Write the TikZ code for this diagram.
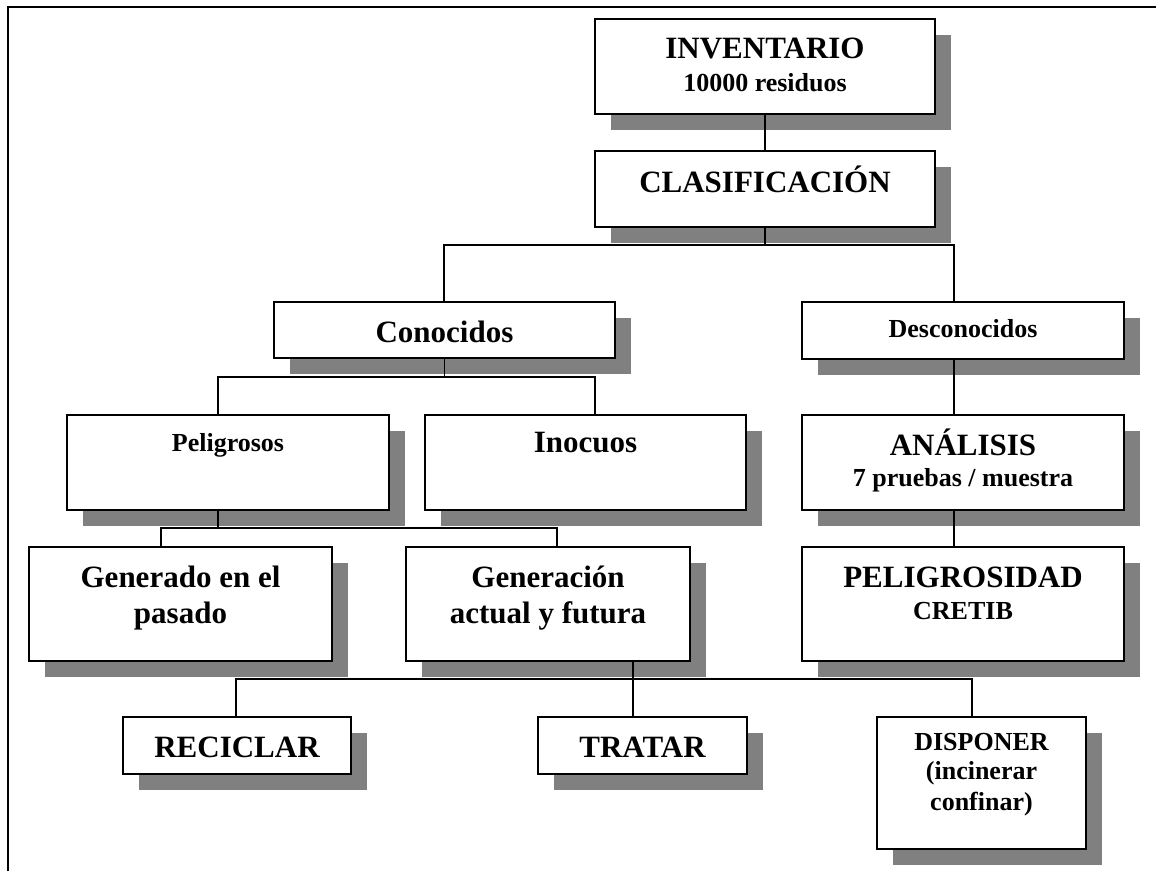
\documentclass[tikz,border=0pt]{standalone}
\usepackage{fontspec}
\setmainfont{Liberation Serif}
\usetikzlibrary{shadows}
\definecolor{shadowgray}{HTML}{808080}
\newcommand{\LFont}{\fontsize{23.25pt}{27pt}\selectfont\bfseries}
\newcommand{\SFont}{\fontsize{19.5pt}{23pt}\selectfont\bfseries}
\begin{document}
\begin{tikzpicture}[x=0.75pt,y=-0.75pt,
  box/.style 2 args={draw, line width=1.5pt, fill=white,
    minimum width=#1*0.75pt, minimum height=#2*0.75pt,
    inner sep=0pt, outer sep=0pt,
    drop shadow={shadow xshift=12pt, shadow yshift=-12pt, fill=shadowgray, opacity=1}},
  txtbig/.style={font=\LFont, anchor=base, inner sep=0pt},
  txtsmall/.style={font=\SFont, anchor=base, inner sep=0pt},
  link/.style={line width=1pt}]
\useasboundingbox (0,0) rectangle (1156,871);
\fill[white] (0,0) rectangle (1156,871);
% frame
\draw[line width=1.5pt] (8,871) -- (8,7) -- (1156,7);
% boxes
\node[box={340}{95}]  (inv)  at (765,66.5)   {};
\node[box={340}{76}]  (clas) at (765,189)    {};
\node[box={341}{56}]  (con)  at (444.5,330)  {};
\node[box={322}{57}]  (desc) at (963,330.5)  {};
\node[box={322}{95}]  (peli) at (228,462.5)  {};
\node[box={321}{95}]  (ino)  at (585.5,462.5){};
\node[box={322}{95}]  (ana)  at (963,462.5)  {};
\node[box={303}{114}] (gen1) at (180.5,604)  {};
\node[box={284}{114}] (gen2) at (548,604)    {};
\node[box={322}{114}] (pelg) at (963,604)    {};
\node[box={228}{57}]  (rec)  at (237,745.5)  {};
\node[box={209}{57}]  (tra)  at (642.5,745.5){};
\node[box={209}{132}] (dis)  at (981.5,783)  {};
% junctions
\coordinate (j1)  at (765,245);
\coordinate (j1l) at (444,245);
\coordinate (j1r) at (954,245);
\coordinate (j2l) at (218,377);
\coordinate (j2r) at (595,377);
\coordinate (j3l) at (161,528);
\coordinate (j3r) at (557,528);
\coordinate (j4)  at (633,679);
\coordinate (j4l) at (236,679);
\coordinate (j4r) at (972,679);
% connectors
\draw[link] (inv.south) -- (clas.north);
\draw[link] (clas.south) -- (j1);
\draw[link] (j1l |- con.north) -- (j1l) -- (j1r) -- (j1r |- desc.north);
\draw[link] (con.south) -- (con.south |- j2l);
\draw[link] (j2l |- peli.north) -- (j2l) -- (j2r) -- (j2r |- ino.north);
\draw[link] (j1r |- desc.south) -- (j1r |- ana.north);
\draw[link] (j1r |- ana.south) -- (j1r |- pelg.north);
\draw[link] (j2l |- peli.south) -- (j2l |- j3l);
\draw[link] (j3l |- gen1.north) -- (j3l) -- (j3r) -- (j3r |- gen2.north);
\draw[link] (j4 |- gen2.south) -- (j4 |- tra.north);
\draw[link] (j4l |- rec.north) -- (j4l) -- (j4r) -- (j4r |- dis.north);
% texts
\node[txtbig]   (inv-a)  at (inv.center |- 0,58)   {INVENTARIO};
\node[txtsmall] (inv-b)  at (inv.center |- 0,91)   {10000 residuos};
\node[txtbig]   (clas-a) at (clas.center |- 0,192) {CLASIFICACIÓN};
\node[txtbig]   (con-a)  at (con.center |- 0,342)  {Conocidos};
\node[txtsmall] (desc-a) at (desc.center |- 0,337) {Desconocidos};
\node[txtsmall] (peli-a) at (peli.center |- 0,451) {Peligrosos};
\node[txtbig]   (ino-a)  at (ino.center |- 0,452)  {Inocuos};
\node[txtbig]   (ana-a)  at (ana.center |- 0,455)  {ANÁLISIS};
\node[txtsmall] (ana-b)  at (ana.center |- 0,486)  {7 pruebas / muestra};
\node[txtbig]   (gen1-a) at (gen1.center |- 0,587) {Generado en el};
\node[txtbig]   (gen1-b) at (gen1.center |- 0,623) {pasado};
\node[txtbig]   (gen2-a) at (gen2.center |- 0,587) {Generación};
\node[txtbig]   (gen2-b) at (gen2.center |- 0,623) {actual y futura};
\node[txtbig]   (pelg-a) at (pelg.center |- 0,587) {PELIGROSIDAD};
\node[txtsmall] (pelg-b) at (pelg.center |- 0,619) {CRETIB};
\node[txtbig]   (rec-a)  at (rec.center |- 0,757)  {RECICLAR};
\node[txtbig]   (tra-a)  at (tra.center |- 0,757)  {TRATAR};
\node[txtsmall] (dis-a)  at (dis.center |- 0,750)  {DISPONER};
\node[txtsmall] (dis-b)  at (dis.center |- 0,779)  {(incinerar};
\node[txtsmall] (dis-c)  at (dis.center |- 0,810)  {confinar)};
\end{tikzpicture}
\end{document}
